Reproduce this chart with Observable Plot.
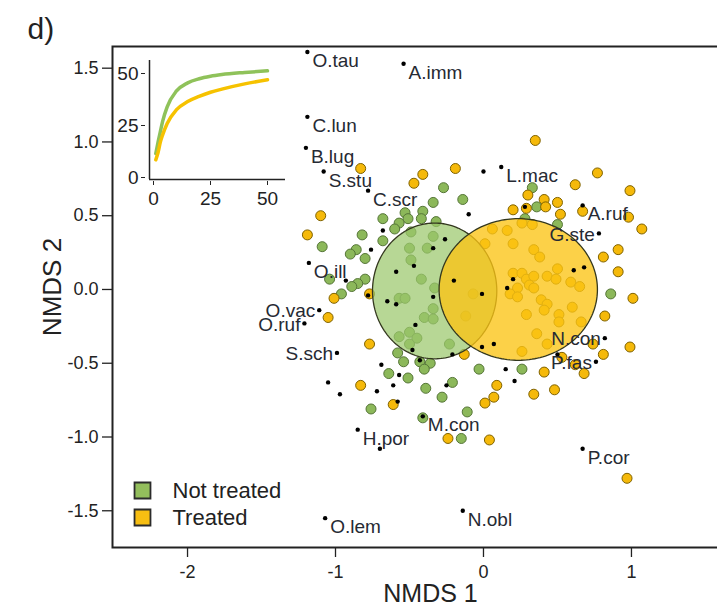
<!DOCTYPE html>
<html><head><meta charset="utf-8">
<script src="https://cdn.jsdelivr.net/npm/d3@7"></script>
<script src="https://cdn.jsdelivr.net/npm/@observablehq/plot@0.6"></script>
<style>
html,body{margin:0;padding:0;background:#fff;overflow:hidden;}
#wrap{position:relative;width:717px;height:607px;overflow:hidden;}
#wrap > svg{position:absolute;left:0;top:0;}
#inset{position:absolute;left:100px;top:30px;}
</style></head>
<body><div id="wrap"><div id="inset"></div></div>
<script>
// ---- data ----
const xTicks = [-2, -1, 0, 1];
const yTicks = [-1.5, -1.0, -0.5, 0.0, 0.5, 1.0, 1.5];

const notTreated = [[-0.27,0.69],[-0.14,0.61],[-0.34,0.59],[-0.41,0.53],[-0.53,0.52],[-0.51,0.48],[-0.42,0.48],[-0.68,0.48],[-0.57,0.45],[-0.60,0.41],[-0.32,0.46],[-0.82,0.37],[-0.68,0.33],[-1.09,0.29],[-0.86,0.27],[-0.90,0.24],[-0.80,0.21],[-1.04,0.07],[-0.80,0.07],[-0.85,0.04],[-0.89,0.02],[-0.96,-0.03],[-0.49,0.39],[-0.34,0.36],[-0.38,0.28],[-0.50,0.28],[-0.49,0.20],[-0.42,0.07],[-0.33,0.01],[-0.57,-0.06],[-0.53,-0.06],[-0.34,-0.13],[-0.40,-0.19],[-0.34,-0.20],[-0.50,-0.29],[-0.57,-0.32],[-0.45,-0.33],[-0.50,-0.37],[-0.23,-0.37],[-0.58,-0.43],[-0.54,-0.49],[-0.43,-0.49],[-0.36,-0.50],[-0.40,-0.54],[-0.64,-0.57],[-0.51,-0.60],[-0.21,-0.63],[-0.39,-0.67],[-0.28,-0.73],[-0.03,-0.54],[-0.11,-0.83],[-0.76,-0.81],[-0.41,-0.87],[-0.15,-1.01],[0.33,0.69],[0.36,0.56],[0.50,0.44],[0.28,0.48],[0.86,-0.03],[0.26,-0.54]];

const treated = [[-0.83,0.82],[-0.41,0.78],[-0.47,0.72],[-0.19,0.82],[-1.10,0.50],[-1.19,0.37],[-1.01,-0.06],[-1.05,-0.19],[-0.77,-0.03],[0.35,1.01],[0.77,0.79],[0.62,0.71],[0.99,0.67],[0.30,0.64],[0.41,0.61],[0.50,0.59],[0.20,0.54],[0.29,0.55],[0.42,0.56],[0.52,0.51],[0.67,0.53],[0.98,0.49],[1.07,0.41],[0.91,0.27],[0.81,0.22],[0.91,0.12],[1.01,-0.06],[0.82,-0.18],[0.06,0.41],[0.16,0.40],[0.26,0.45],[0.33,0.44],[0.20,0.31],[0.34,0.27],[0.38,0.22],[0.50,0.14],[0.20,0.11],[0.26,0.11],[0.29,0.07],[0.34,0.09],[0.43,0.09],[0.49,0.07],[0.59,0.05],[0.65,0.02],[0.23,0.01],[0.31,0.03],[0.34,0.01],[0.18,-0.03],[0.23,-0.05],[0.39,-0.07],[0.43,-0.10],[0.60,-0.12],[0.29,-0.17],[0.41,-0.14],[0.51,-0.17],[-0.77,-0.37],[-0.83,-0.65],[-0.61,-0.78],[-0.13,-0.44],[0.09,-0.65],[0.07,-0.73],[0.01,-0.77],[-0.24,-1.01],[0.04,-1.02],[0.99,-0.39],[0.81,-0.44],[0.74,-0.37],[0.68,-0.57],[0.62,-0.51],[0.41,-0.56],[0.48,-0.68],[0.34,-0.71],[0.36,-0.30],[0.26,-0.42],[0.43,-0.37],[0.53,-0.46],[0.51,-0.22],[0.66,-0.22],[0.97,-1.28],[0.01,0.31],[-0.07,-0.03],[-0.12,-0.18]];

// group ellipses: [centre x, centre y, radius x, radius y]
const ellipseNotTreated = [-0.33, -0.01, 0.42, 0.46];
const ellipseTreated = [0.235, 0.0, 0.535, 0.48];

const speciesNames = ["O.tau","A.imm","C.lun","B.lug","S.stu","C.scr","L.mac","A.ruf","G.ste","O.ill","O.vac","O.ruf","S.sch","N.con","P.fas","P.cor","M.con","H.por","O.lem","N.obl"];
const speciesX = [-1.19,-0.54,-1.19,-1.20,-1.08,-0.78,0.12,0.67,0.78,-1.18,-1.11,-1.21,-0.99,0.82,0.76,0.67,-0.41,-0.85,-1.07,-0.14];
const speciesY = [1.61,1.53,1.17,0.96,0.80,0.67,0.83,0.57,0.38,0.18,-0.14,-0.23,-0.43,-0.33,-0.49,-1.08,-0.86,-0.95,-1.55,-1.50];
const labelSide = ["right","right","right","right","right","right","right","right","left","right","left","left","left","left","left","right","right","right","right","right"];

const otherSpecies = [[0.00,0.80],[-0.10,0.51],[-0.68,0.40],[-0.76,0.27],[-0.93,0.06],[-0.26,0.34],[-0.34,0.28],[-0.47,0.16],[-0.59,0.12],[-0.20,0.06],[-0.01,-0.03],[-0.34,-0.05],[-0.65,-0.08],[-0.59,-0.10],[-0.78,-0.04],[0.28,0.56],[0.61,0.13],[0.68,0.15],[0.20,0.07],[0.16,0.01],[-0.46,-0.24],[-0.48,-0.41],[-0.43,-0.48],[-0.21,-0.44],[-0.01,-0.39],[0.07,-0.37],[-0.69,-0.51],[-0.57,-0.58],[-1.05,-0.63],[-0.97,-0.71],[-0.72,-0.69],[-0.61,-0.65],[-0.25,-0.65],[-0.58,-0.76],[-0.70,-1.08],[0.15,-0.54],[0.21,-0.62],[0.50,-0.44]];

// inset: accumulation curves
const curveX = [1, 2, 3, 4, 6, 10, 15, 20, 25, 30, 40, 50];
const curveNotTreated = [11.5, 17, 22, 27, 34, 41.5, 45.5, 47.5, 48.7, 49.5, 50.5, 51.3];
const curveTreated = [8.5, 12, 17, 20.5, 26, 32.5, 36.5, 39, 41, 42.5, 45, 47];
const insetTicks = [0, 25, 50];

const legendLabels = ["Not treated", "Treated"];

// ---- styles ----
const font = '"Liberation Sans", Arial, Helvetica, sans-serif';
const greenFill = "#8cb85a", greenStroke = "#557537";
const yellowFill = "#f5b90a", yellowStroke = "#7f6200";
const textCol = "#262a33";

const toPts = arr => arr.map(([x, y]) => ({x, y}));
function ellipse([cx, cy, rx, ry]) {
  return d3.range(0, 360, 2).map(a => ({x: cx + rx * Math.cos(a * Math.PI / 180), y: cy + ry * Math.sin(a * Math.PI / 180)}));
}
const species = speciesNames.map((n, i) => ({name: n, x: speciesX[i], y: speciesY[i], side: labelSide[i]}));

const main = Plot.plot({
  width: 760, height: 607,
  marginTop: 46, marginBottom: 60, marginLeft: 112, marginRight: 0,
  style: `max-width:none;background:transparent;overflow:visible;font-family:${font};color:#222;`,
  x: {domain: [-2.507, 1.872]},
  y: {domain: [-1.749, 1.647]},
  marks: [
    Plot.dot(toPts(notTreated), {x: "x", y: "y", r: 5, fill: greenFill, stroke: greenStroke, strokeWidth: 1}),
    Plot.dot(toPts(treated), {x: "x", y: "y", r: 5, fill: yellowFill, stroke: yellowStroke, strokeWidth: 1}),
    Plot.line(ellipse(ellipseNotTreated), {x: "x", y: "y", curve: "linear-closed", fill: "#9bc76c", fillOpacity: 0.72, stroke: "#34381f", strokeWidth: 1.3}),
    Plot.line(ellipse(ellipseTreated), {x: "x", y: "y", curve: "linear-closed", fill: "#fbc414", fillOpacity: 0.78, stroke: "#34381f", strokeWidth: 1.3}),
    Plot.dot(toPts(otherSpecies), {x: "x", y: "y", r: 2.2, fill: "#000", stroke: "none"}),
    Plot.dot(species, {x: "x", y: "y", r: 2.2, fill: "#000", stroke: "none"}),
    Plot.text(species.filter(d => d.side === "right"), {x: "x", y: "y", text: "name", textAnchor: "start", dx: 5, dy: 9, fontSize: 19, fill: textCol}),
    Plot.text(species.filter(d => d.side === "left"), {x: "x", y: "y", text: "name", textAnchor: "end", dx: -4, dy: 1, fontSize: 19, fill: textCol}),
    Plot.frame({stroke: "#222", strokeWidth: 2}),
    Plot.axisX({ticks: xTicks, tickFormat: d => String(d), tickSize: 10, tickPadding: 8, fontSize: 18, label: null, strokeWidth: 1.3}),
    Plot.axisY({ticks: yTicks, tickFormat: d => d.toFixed(1), tickSize: 10, tickPadding: 4, fontSize: 18, label: null, strokeWidth: 1.3}),
    Plot.text(["NMDS 1"], {frameAnchor: "bottom", lineAnchor: "middle", textAnchor: "middle", dx: -6, dy: 46, fontSize: 25, fill: "#222"}),
    Plot.text(["NMDS 2"], {frameAnchor: "left", lineAnchor: "middle", textAnchor: "middle", dx: -60, dy: -10, rotate: -90, fontSize: 26, fill: "#222"}),
    Plot.text(["d)"], {frameAnchor: "top-left", lineAnchor: "middle", textAnchor: "start", dx: -85, dy: -17, fontSize: 30, fill: "#222"}),
    Plot.dot([legendLabels[0]], {frameAnchor: "bottom-left", dx: 30, dy: -57, symbol: "square", r: 9, fill: "#93be5c", stroke: "#2b2b2b", strokeWidth: 1.8}),
    Plot.dot([legendLabels[1]], {frameAnchor: "bottom-left", dx: 30, dy: -30, symbol: "square", r: 9, fill: "#f7be12", stroke: "#2b2b2b", strokeWidth: 1.8}),
    Plot.text([legendLabels[0]], {frameAnchor: "bottom-left", lineAnchor: "middle", textAnchor: "start", dx: 60, dy: -57, fontSize: 22, fill: "#222"}),
    Plot.text([legendLabels[1]], {frameAnchor: "bottom-left", lineAnchor: "middle", textAnchor: "start", dx: 60, dy: -30, fontSize: 22, fill: "#222"})
  ]
});
document.getElementById("wrap").insertBefore(main, document.getElementById("inset"));

const curves = [
  ...curveX.map((x, i) => ({x, y: curveNotTreated[i], g: "Not treated"})),
  ...curveX.map((x, i) => ({x, y: curveTreated[i], g: "Treated"}))
];
const inset = Plot.plot({
  width: 200, height: 190,
  marginLeft: 49, marginTop: 30, marginBottom: 41, marginRight: 15,
  style: `max-width:none;background:transparent;overflow:visible;font-family:${font};color:#222;`,
  x: {domain: [0, 50], range: [53, 167]},
  y: {domain: [0, 50], range: [147, 43]},
  marks: [
    Plot.ruleX([0], {dx: -4, stroke: "#222", strokeWidth: 1.5}),
    Plot.ruleY([0], {dy: 2, stroke: "#222", strokeWidth: 1.5}),
    Plot.axisX({ticks: insetTicks, tickSize: 4, tickPadding: 6, fontSize: 19, label: null, dy: 2}),
    Plot.axisY({ticks: insetTicks, tickSize: 4, tickPadding: 3, fontSize: 19, label: null, dx: -4}),
    Plot.line(curves.filter(d => d.g === "Not treated"), {x: "x", y: "y", curve: "monotone-x", stroke: "#8fc25a", strokeWidth: 3.5}),
    Plot.line(curves.filter(d => d.g === "Treated"), {x: "x", y: "y", curve: "monotone-x", stroke: "#f6c200", strokeWidth: 3.5})
  ]
});
document.getElementById("inset").appendChild(inset);
</script>
</body></html>
